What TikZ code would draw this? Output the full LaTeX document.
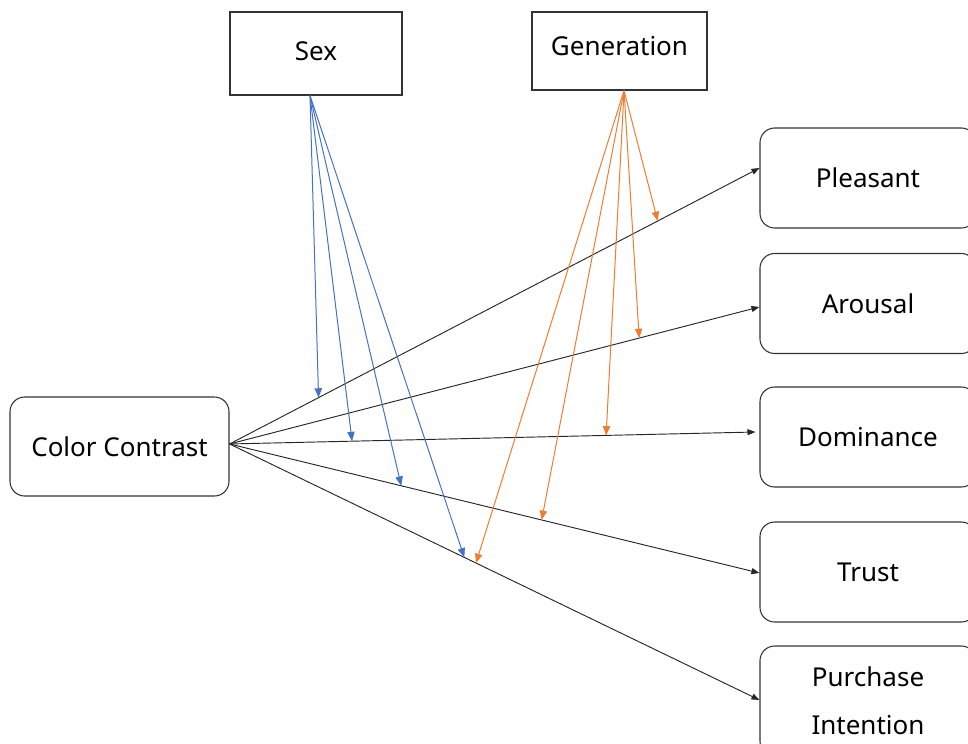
\documentclass[tikz,border=0pt]{standalone}
\usepackage{fontspec}
\setmainfont{Noto Sans}
\usetikzlibrary{arrows.meta,calc}
\definecolor{sexblue}{HTML}{4472C4}
\definecolor{genorange}{HTML}{ED7D31}
\begin{document}
\begin{tikzpicture}[x=0.75pt,y=-0.75pt,
  box/.style={draw=black!80, line width=0.8pt, fill=white, inner sep=0pt,
    font=\fontsize{19.5}{24}\selectfont, align=center},
  modbox/.style={box},
  outbox/.style={box, rounded corners=11pt, minimum width=162pt, minimum height=75pt},
  path/.style={draw=black!85, line width=0.7pt, -{Triangle[length=6pt,width=4.5pt]}},
  sexpath/.style={draw=sexblue, line width=0.75pt, -{Triangle[length=7pt,width=5.5pt]}},
  genpath/.style={draw=genorange, line width=0.75pt, -{Triangle[length=7pt,width=5.5pt]}}]
\useasboundingbox (0,0) rectangle (968,743);

% moderators
\node[modbox, minimum width=129pt, minimum height=62.25pt] (sex) at (316,53.5) {\raisebox{3pt}{Sex}};
\node[modbox, minimum width=131.25pt, minimum height=58.5pt] (gen) at (619.5,51) {\raisebox{7pt}{Generation}};

% independent variable
\node[outbox, minimum width=164.25pt, minimum height=74.25pt] (cc) at (119.5,446.5) {Color Contrast};

% outcomes
\node[outbox] (pl) at (868,178) {Pleasant};
\node[outbox] (ar) at (868,303.5) {Arousal};
\node[outbox] (do) at (868,437) {Dominance};
\node[outbox] (tr) at (868,572) {Trust};
\node[outbox, minimum height=82.5pt] (pi) at (868,701) {Purchase\\[12pt]Intention};

% path end points
\coordinate (src) at ([yshift=1.9pt]cc.east);
\coordinate (plin) at ([yshift=7.5pt]pl.west);
\coordinate (arin) at ([yshift=-2.6pt]ar.west);
\coordinate (doin) at ([xshift=-3pt,yshift=3.75pt]do.west);
\coordinate (trin) at ([yshift=-0.75pt]tr.west);
\coordinate (piin) at ([yshift=0.75pt]pi.west);
\coordinate (sexout) at ([xshift=-4.5pt]sex.south);
\coordinate (genout) at ([xshift=3.4pt]gen.south);

% main effects
\draw[path] (src) -- (plin);
\draw[path] (src) -- (arin);
\draw[path] (src) -- (doin);
\draw[path] (src) -- (trin);
\draw[path] (src) -- (piin);

% moderation by sex
\draw[sexpath] (sexout) -- ($(src)!0.168!(plin)$);
\draw[sexpath] (sexout) -- ($(src)!0.233!(doin)$);
\draw[sexpath] (sexout) -- ($(src)!0.324!(trin)$);
\draw[sexpath] (sexout) -- ($(src)!0.443!(piin)$);

% moderation by generation
\draw[genpath] (genout) -- ($(src)!0.808!(plin)$);
\draw[genpath] (genout) -- ($(src)!0.773!(arin)$);
\draw[genpath] (genout) -- ($(src)!0.716!(doin)$);
\draw[genpath] (genout) -- ($(src)!0.589!(trin)$);
\draw[genpath] (genout) -- ($(src)!0.465!(piin)$);
\end{tikzpicture}
\end{document}
